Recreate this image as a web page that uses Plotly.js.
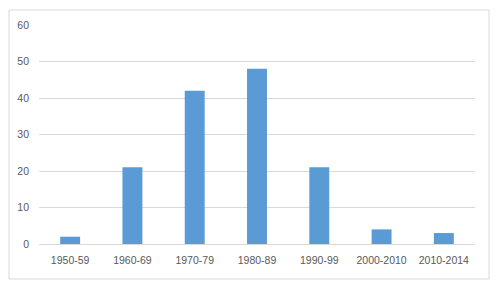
<!DOCTYPE html>
<html><head><meta charset="utf-8">
<script src="https://cdn.plot.ly/plotly-3.0.1.min.js"></script>
<style>html,body{margin:0;padding:0;background:#fff;}</style>
</head><body><div id="chart" style="width:498px;height:286px;"></div>
<script>
const categories = ["1950-59","1960-69","1970-79","1980-89","1990-99","2000-2010","2010-2014"];
const values = [2, 21, 42, 48, 21, 4, 3];
const yTicks = [0, 10, 20, 30, 40, 50, 60];

const W = 498, H = 286;
const m = {l: 39, r: 23, t: 25, b: 42};
const pw = W - m.l - m.r, ph = H - m.t - m.b;
// chart border in pixels
const bx0 = 9, bx1 = 489, by0 = 10, by1 = 279;

const trace = {
  type: 'bar', x: categories, y: values,
  marker: {color: '#5B9BD5'}, hoverinfo: 'skip'
};
const layout = {
  width: W, height: H, margin: m,
  paper_bgcolor: '#fff', plot_bgcolor: '#fff',
  bargap: 0.68, showlegend: false,
  font: {family: 'Liberation Sans, Arial, sans-serif', size: 10.5, color: '#595959'},
  xaxis: {type: 'category', showgrid: false, showline: false, zeroline: false, ticks: '', ticklabelstandoff: 8, tickfont: {size: 10.5, color: '#595959'}},
  yaxis: {range: [0, 60], tickvals: yTicks, showgrid: true, gridcolor: '#d9d9d9', gridwidth: 1, zeroline: true, zerolinecolor: '#d9d9d9', zerolinewidth: 1, showline: false, ticks: '', ticklabelstandoff: 9, tickfont: {size: 10.5, color: '#595959'}},
  shapes: [{
    type: 'rect', xref: 'paper', yref: 'paper',
    x0: (bx0 - m.l) / pw, x1: (bx1 - m.l) / pw,
    y0: (H - m.b - by1) / ph, y1: (H - m.b - by0) / ph,
    line: {color: '#d9d9d9', width: 1}, fillcolor: 'rgba(0,0,0,0)', layer: 'below'
  }]
};
Plotly.newPlot('chart', [trace], layout, {staticPlot: true, displayModeBar: false});
</script></body></html>
